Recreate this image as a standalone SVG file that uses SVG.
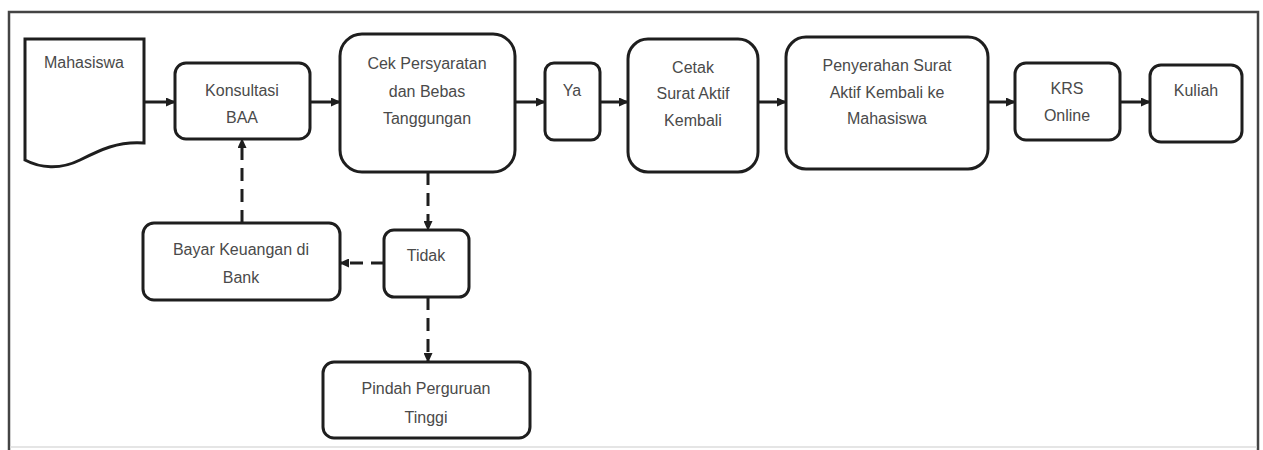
<svg xmlns="http://www.w3.org/2000/svg" width="1263" height="450" viewBox="0 0 1263 450">
<style>
.box{fill:#fff;stroke:#1e1e1e;stroke-width:3}
.t{font-family:"Liberation Sans",Arial,sans-serif;font-size:16px;fill:#4a4a4a;text-anchor:middle;dominant-baseline:central}
.c{fill:none;stroke:#1e1e1e;stroke-width:3;marker-end:url(#ah)}
.d{stroke-dasharray:13 8}
</style>
<defs>
<marker id="ah" markerUnits="userSpaceOnUse" markerWidth="10" markerHeight="9" refX="9" refY="4.5" orient="auto">
<path d="M0,0 L10,4.5 L0,9 Z" fill="#1e1e1e"/>
</marker>
</defs>
<rect x="0" y="0" width="1263" height="450" fill="#fff"/>
<g id="frame">
<path d="M9,450 V12 H1258 V450" fill="none" stroke="#444" stroke-width="2.5"/>
<line x1="10" y1="447" x2="1257" y2="447" stroke="#ddd" stroke-width="1.5"/>
</g>
<g id="connectors">
<line class="c" x1="144" y1="102" x2="175" y2="102"/>
<line class="c" x1="310" y1="102" x2="340" y2="102"/>
<line class="c" x1="515" y1="102" x2="545" y2="102"/>
<line class="c" x1="600" y1="102" x2="628" y2="102"/>
<line class="c" x1="758" y1="102" x2="786" y2="102"/>
<line class="c" x1="988" y1="102" x2="1015" y2="102"/>
<line class="c" x1="1120" y1="102" x2="1150" y2="102"/>
<line class="c d" x1="428" y1="172" x2="428" y2="230"/>
<line class="c d" x1="384" y1="263" x2="340" y2="263"/>
<line class="c d" x1="242" y1="223" x2="242" y2="139"/>
<line class="c d" x1="428" y1="297" x2="428" y2="362"/>
</g>
<g id="mahasiswa">
<path class="box" d="M25,39 H144 V143 C118,141 100,150 80,160 C60,170 40,168 25,160 Z"/>
<text class="t" x="84" y="62">Mahasiswa</text>
</g>
<g id="konsultasi">
<rect class="box" x="175" y="63" width="135" height="76" rx="11"/>
<text class="t" x="242" y="90">Konsultasi</text>
<text class="t" x="242" y="117">BAA</text>
</g>
<g id="cek">
<rect class="box" x="340" y="34" width="175" height="138" rx="22"/>
<text class="t" x="427" y="63">Cek Persyaratan</text>
<text class="t" x="427" y="91">dan Bebas</text>
<text class="t" x="427" y="118">Tanggungan</text>
</g>
<g id="ya">
<rect class="box" x="545" y="63" width="55" height="77" rx="9"/>
<text class="t" x="572" y="90">Ya</text>
</g>
<g id="cetak">
<rect class="box" x="628" y="39" width="130" height="133" rx="20"/>
<text class="t" x="693" y="67">Cetak</text>
<text class="t" x="693" y="93">Surat Aktif</text>
<text class="t" x="693" y="120">Kembali</text>
</g>
<g id="penyerahan">
<rect class="box" x="786" y="37" width="202" height="132" rx="20"/>
<text class="t" x="887" y="65">Penyerahan Surat</text>
<text class="t" x="887" y="92">Aktif Kembali ke</text>
<text class="t" x="887" y="118">Mahasiswa</text>
</g>
<g id="krs">
<rect class="box" x="1015" y="63" width="105" height="77" rx="11"/>
<text class="t" x="1067" y="88">KRS</text>
<text class="t" x="1067" y="115">Online</text>
</g>
<g id="kuliah">
<rect class="box" x="1150" y="65" width="92" height="77" rx="11"/>
<text class="t" x="1196" y="90">Kuliah</text>
</g>
<g id="bayar">
<rect class="box" x="143" y="223" width="197" height="77" rx="11"/>
<text class="t" x="241" y="249">Bayar Keuangan di</text>
<text class="t" x="241" y="277">Bank</text>
</g>
<g id="tidak">
<rect class="box" x="384" y="230" width="85" height="67" rx="10"/>
<text class="t" x="426" y="255">Tidak</text>
</g>
<g id="pindah">
<rect class="box" x="323" y="362" width="207" height="76" rx="11"/>
<text class="t" x="426" y="388">Pindah Perguruan</text>
<text class="t" x="426" y="417">Tinggi</text>
</g>
</svg>
